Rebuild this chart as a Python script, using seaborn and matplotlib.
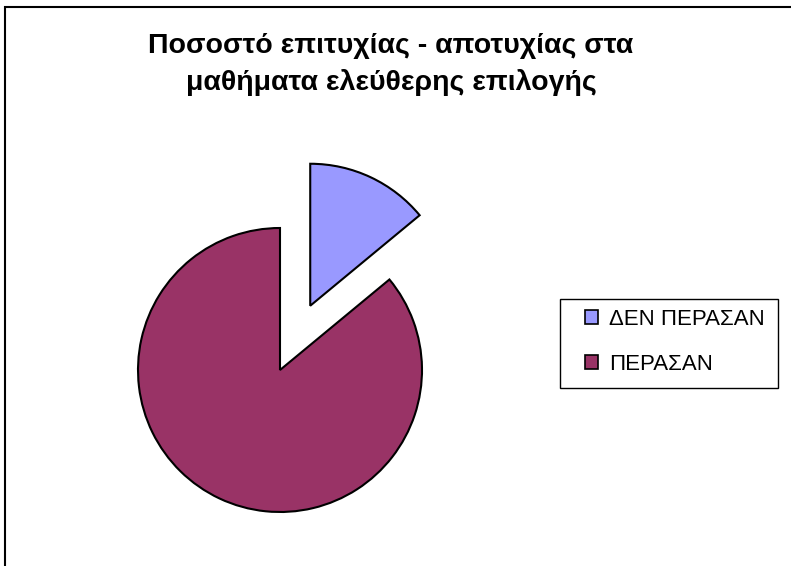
import matplotlib
matplotlib.use("Agg")
import matplotlib.pyplot as plt
import matplotlib.patches as mpatches
import seaborn as sns

sns.set_theme(style="white")
plt.rcParams['font.family'] = ['Liberation Sans', 'DejaVu Sans']
plt.rcParams['text.color'] = 'black'

labels = ["ΔΕΝ ΠΕΡΑΣΑΝ", "ΠΕΡΑΣΑΝ"]
values = [14, 86]
colors = ["#9999FF", "#993366"]
title = "Ποσοστό επιτυχίας - αποτυχίας στα\nμαθήματα ελεύθερης επιλογής"

W, H = 791, 566
fig = plt.figure(figsize=(W / 100, H / 100), dpi=100)
fig.patch.set_facecolor("white")

# outer frame (left/top visible)
fig.add_artist(mpatches.Rectangle((4.5 / W, -0.1), 1.2, 1 - 6.5 / H + 0.1,
                                  transform=fig.transFigure, fill=False,
                                  edgecolor="black", linewidth=1.5))

R = 142.0
cx, cy = 280, H - 370
ax = fig.add_axes([(cx - 200) / W, (cy - 180) / H, 400 / W, 360 / H])
wedges, _ = ax.pie(values, colors=colors, explode=[0.5, 0], startangle=90,
                   counterclock=False,
                   wedgeprops=dict(edgecolor="black", linewidth=1.5))
ax.set_aspect("auto")
ax.set_xlim(-200 / R, 200 / R)
ax.set_ylim(-180 / R, 180 / R)
ax.axis("off")

fig.text(391 / W, 1 - 64.5 / H, title, ha="center", va="center",
         fontsize=20.5, fontweight="bold", linespacing=1.52, color="black")

# legend frame
fig.add_artist(mpatches.Rectangle((560 / W, 1 - 388 / H), 218 / W, 89 / H,
                                  transform=fig.transFigure, fill=False,
                                  edgecolor="black", linewidth=1.0))
handles = [mpatches.Patch(facecolor=c, edgecolor="black", linewidth=1.2) for c in colors]
leg = fig.legend(handles, labels, loc="center",
                 bbox_to_anchor=(675 / W, 1 - 342 / H),
                 fontsize=16, frameon=False,
                 handlelength=0.6, handleheight=0.6, handletextpad=0.5,
                 labelspacing=1.08, borderpad=0, borderaxespad=0)
for t in leg.get_texts():
    t.set_color("black")

fig.savefig("out.png", dpi=100, facecolor="white")
